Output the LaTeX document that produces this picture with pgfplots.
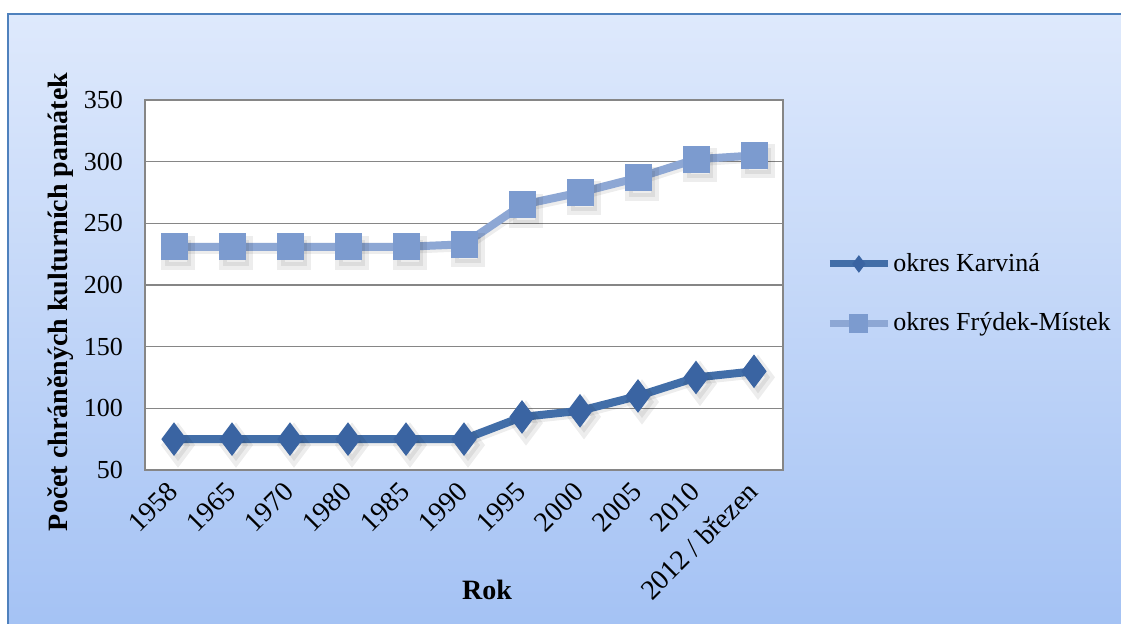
\documentclass[border=0pt]{standalone}
\usepackage{fontspec}
\setmainfont{Liberation Serif}
\usepackage{pgfplots}
\pgfplotsset{compat=1.18}
\definecolor{bgtop}{RGB}{222,233,252}
\definecolor{bgbot}{RGB}{164,194,244}
\definecolor{framec}{RGB}{79,129,189}
\definecolor{karv}{RGB}{66,110,168}
\definecolor{karvmark}{RGB}{58,100,162}
\definecolor{fm}{RGB}{141,167,212}
\definecolor{fmmark}{RGB}{124,155,207}
\definecolor{gridc}{RGB}{134,134,134}

\pgfplotsset{
  leg karv/.style={legend image code/.code={\draw[##1, mark size=4pt, line width=3.5pt, mark repeat=2, mark phase=2]
      plot coordinates {(0pt,0pt) (14.5pt,0pt) (29pt,0pt)};}},
  leg fm/.style={legend image code/.code={\draw[##1, mark size=4.5pt, line width=3.5pt, mark repeat=2, mark phase=2]
      plot coordinates {(0pt,0pt) (14.5pt,0pt) (29pt,0pt)};}},
}

\pgfplotstableread{
x karvina frydek
0 75 231
1 75 231
2 75 231
3 75 231
4 75 231
5 75 233
6 93 265
7 98 275
8 110 287
9 125 302
10 130 305
}\pamatky

\begin{document}
\begin{tikzpicture}[font=\fontsize{13}{15}\selectfont]
\useasboundingbox (0,0) rectangle (560.5pt,312pt);
\fill[white] (0,0) rectangle (560.5pt,312pt);
\shadedraw[top color=bgtop, bottom color=bgbot, draw=framec, line width=1pt]
  (4pt,-3pt) rectangle (566pt,305pt);
\begin{axis}[
    at={(72.5pt,77pt)}, anchor=south west,
    scale only axis, width=319pt, height=185pt,
    xmin=-0.5, xmax=10.5, ymin=50, ymax=350,
    xtick={0,...,10},
    xticklabels={1958,1965,1970,1980,1985,1990,1995,2000,2005,2010,2012 / březen},
    ytick={50,100,...,350},
    major tick length=0pt,
    ymajorgrids, grid style={gridc, line width=0.75pt},
    axis line style={gridc, line width=0.75pt},
    axis background/.style={fill=white},
    /pgf/number format/assume math mode=true,
    yticklabel style={xshift=-7.5pt},
    xticklabel style={yshift=-6pt, xshift=2pt, rotate=45, anchor=east, font=\fontsize{14}{16}\selectfont},
    ylabel={Počet chráněných kulturních památek},
    ylabel style={at={(axis description cs:-0.132,0.454)}, anchor=center, font=\bfseries\fontsize{14}{16}\selectfont},
    xlabel={Rok},
    xlabel style={at={(axis description cs:0.536,-0.324)}, anchor=center, font=\bfseries\fontsize{14}{16}\selectfont},
    legend style={at={(1.058,0.477)}, anchor=west, draw=none, fill=none, row sep=15pt,
      font=\fontsize{13}{15}\selectfont, nodes={inner xsep=1pt}},
    legend cell align=left,
  ]
  % shadows
  \addplot[forget plot, black, opacity=0.07, line width=4pt, mark=diamond*, mark size=8pt,
    transform canvas={xshift=1pt, yshift=-1.5pt}] table[x=x, y=karvina] {\pamatky};
  \addplot[forget plot, black, opacity=0.07, line width=4pt, mark=square*, mark size=6.5pt,
    transform canvas={xshift=1pt, yshift=-1.5pt}] table[x=x, y=frydek] {\pamatky};
  % series
  \addplot[karv, line width=4pt, mark=diamond*, mark size=8pt,
    mark options={solid, fill=karvmark, draw=karvmark, line width=0.5pt}, leg karv]
    table[x=x, y=karvina] {\pamatky};
  \addlegendentry{okres Karviná}
  \addplot[fm, line width=4pt, mark=square*, mark size=6.5pt,
    mark options={solid, fill=fmmark, draw=fmmark, line width=0.5pt}, leg fm]
    table[x=x, y=frydek] {\pamatky};
  \addlegendentry{okres Frýdek-Místek}
\end{axis}
\end{tikzpicture}
\end{document}
